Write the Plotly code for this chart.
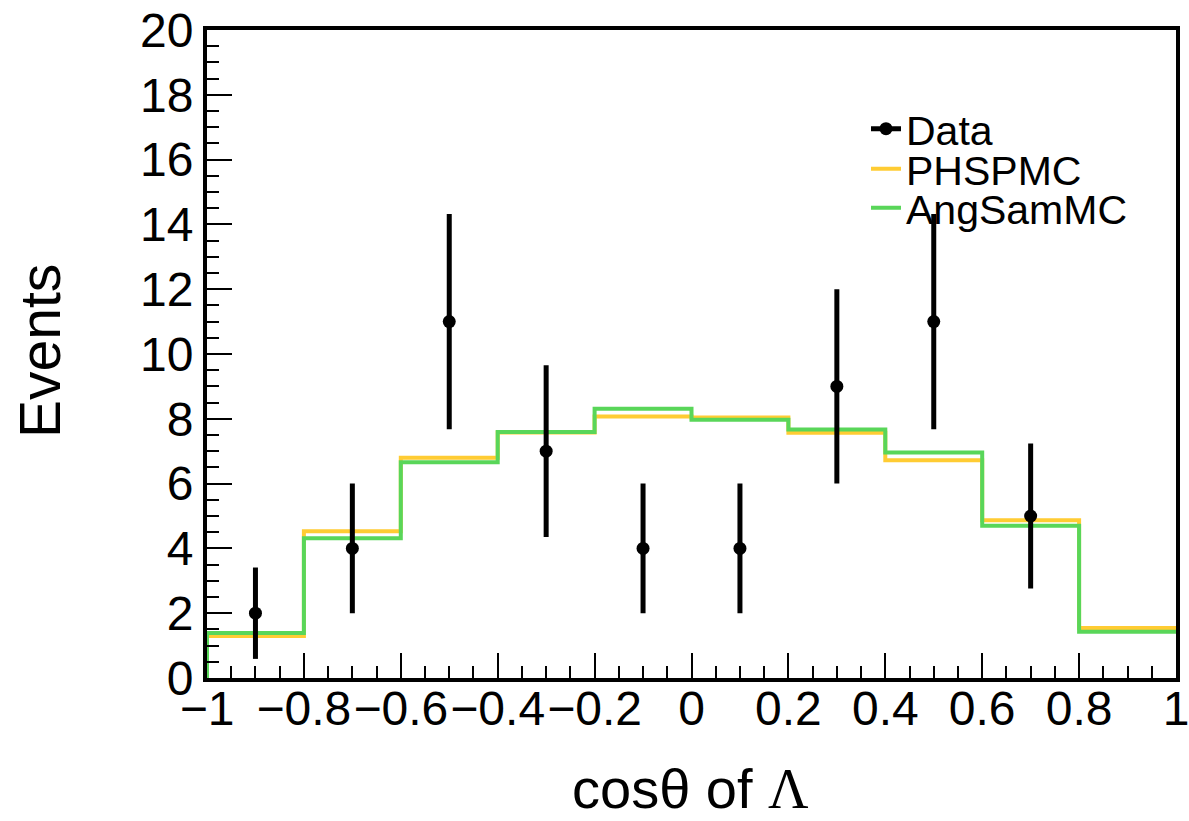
import plotly.graph_objects as go

# Data
bin_edges = [-1.0, -0.8, -0.6, -0.4, -0.2, 0.0, 0.2, 0.4, 0.6, 0.8, 1.0]
phsp_values = [1.30, 4.53, 6.80, 7.58, 8.07, 8.04, 7.57, 6.72, 4.87, 1.54]
angsam_values = [1.39, 4.31, 6.66, 7.59, 8.31, 7.97, 7.67, 6.96, 4.70, 1.43]
data_x = [-0.9, -0.7, -0.5, -0.3, -0.1, 0.1, 0.3, 0.5, 0.7]
data_y = [2, 4, 11, 7, 4, 4, 9, 11, 5]
data_err = [1.41, 2.0, 3.32, 2.65, 2.0, 2.0, 3.0, 3.32, 2.24]

ORANGE = "rgb(255,204,51)"
GREEN = "rgb(89,214,89)"
FONT = "Liberation Sans, Arial, sans-serif"

# plot-area pixel geometry
L, R, T, B = 207, 13, 30, 143
W, H = 1189, 821
PW, PH = W - L - R, H - T - B


def px_x(p):
    return (p - L) / PW


def px_y(p):
    return (H - B - p) / PH


def step_xy(edges, vals):
    xs = [edges[0]] + list(edges[:-1]) + [edges[-1]]
    ys = [0] + list(vals) + [vals[-1]]
    return xs, ys


fig = go.Figure()

xs, ys = step_xy(bin_edges, phsp_values)
fig.add_trace(go.Scatter(x=xs, y=ys, mode="lines", line_shape="hv",
                         line=dict(color=ORANGE, width=4), name="PHSPMC", legend="legend2"))
xs, ys = step_xy(bin_edges, angsam_values)
fig.add_trace(go.Scatter(x=xs, y=ys, mode="lines", line_shape="hv",
                         line=dict(color=GREEN, width=4), name="AngSamMC", legend="legend3"))

# Data points, isolated with gaps so legend shows line+marker
gx, gy, ge = [], [], []
for x, y, e in zip(data_x, data_y, data_err):
    gx += [x, None]
    gy += [y, None]
    ge += [e, None]
fig.add_trace(go.Scatter(x=gx, y=gy, mode="lines+markers", name="Data", legend="legend",
                         line=dict(color="black", width=5),
                         marker=dict(color="black", size=13),
                         error_y=dict(type="data", array=ge, visible=True,
                                      color="black", thickness=5, width=0),
                         connectgaps=False))

leg_common = dict(xanchor="left", yanchor="middle", bgcolor="rgba(0,0,0,0)",
                  font=dict(size=41, family=FONT, color="black"), itemwidth=30,
                  borderwidth=0)
lx = px_x(866)

fig.update_layout(
    width=W, height=H,
    margin=dict(l=L, r=R, t=T, b=B, autoexpand=False),
    paper_bgcolor="white", plot_bgcolor="white",
    font=dict(family=FONT, color="black"),
    showlegend=True,
    legend=dict(x=lx, y=px_y(129), **leg_common),
    legend2=dict(x=lx, y=px_y(169), **leg_common),
    legend3=dict(x=lx, y=px_y(208), **leg_common),
    annotations=[
        dict(text="Events", xref="paper", yref="paper", x=px_x(40), y=px_y(351),
             xanchor="center", yanchor="middle", textangle=-90, showarrow=False,
             font=dict(size=57, family=FONT, color="black")),
        dict(text="cosθ of <span style='font-family:Liberation Serif'>Λ</span>",
             xref="paper", yref="paper", x=px_x(690), y=px_y(788),
             xanchor="center", yanchor="middle", showarrow=False,
             font=dict(size=56, family=FONT, color="black")),
    ],
)

fig.update_xaxes(
    range=[-1, 1], dtick=0.2, tick0=-1, ticks="inside", ticklen=25, tickwidth=2,
    tickcolor="black", showline=True, linewidth=4, linecolor="black", mirror=True,
    showgrid=False, zeroline=False, automargin=False, ticklabeloverflow="allow",
    ticklabelstandoff=-15,
    tickfont=dict(size=48, family=FONT),
    minor=dict(dtick=0.05, ticks="inside", ticklen=12, tickwidth=2, tickcolor="black", showgrid=False),
)
fig.update_yaxes(
    range=[0, 20], dtick=2, ticks="inside", ticklen=25, tickwidth=2,
    tickcolor="black", showline=True, linewidth=4, linecolor="black", mirror=True,
    showgrid=False, zeroline=False, automargin=False, ticklabeloverflow="allow",
    tickfont=dict(size=48, family=FONT),
    minor=dict(dtick=0.5, ticks="inside", ticklen=12, tickwidth=2, tickcolor="black", showgrid=False),
)

fig.write_html("out.html")
